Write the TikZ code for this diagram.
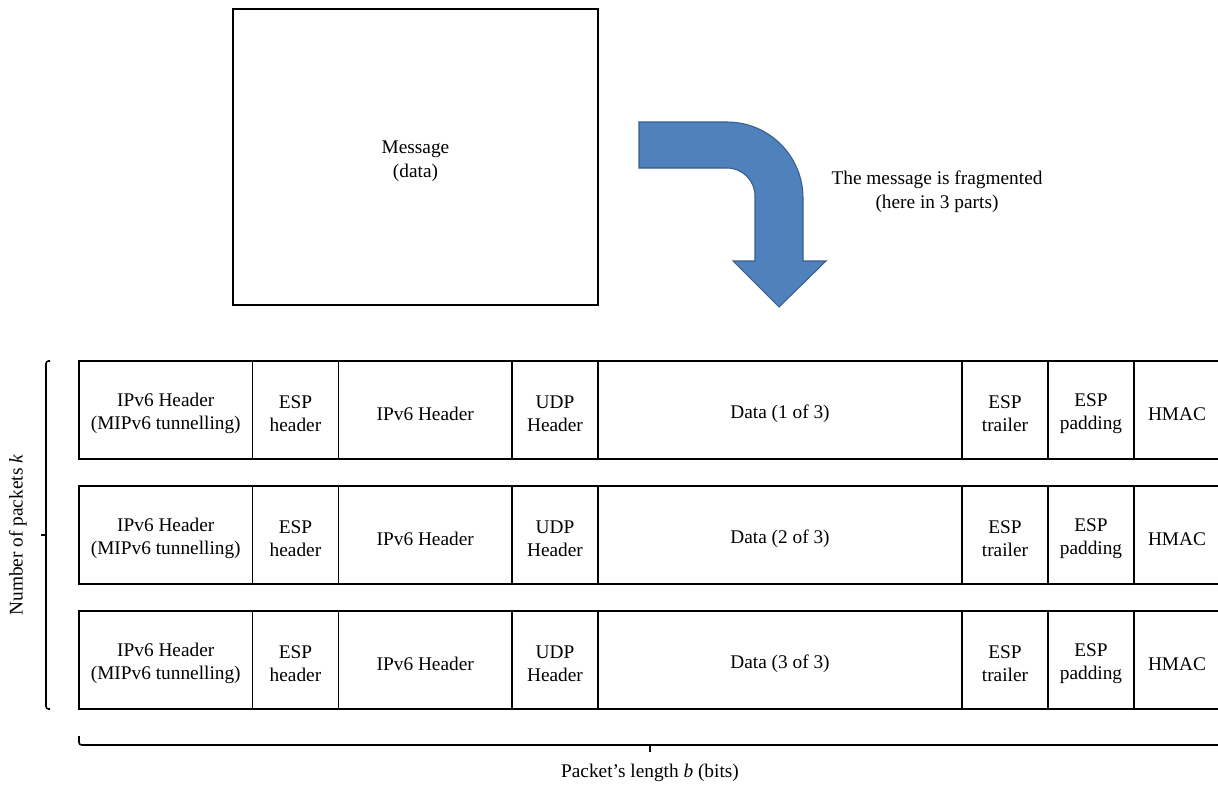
\documentclass[tikz,border=0pt]{standalone}
\usepackage{fontspec}
\setmainfont{Liberation Serif}
\usepackage{tikz}
\usetikzlibrary{positioning}
\definecolor{arrowblue}{RGB}{79,129,189}
\definecolor{arrowedge}{RGB}{56,93,138}
\newcommand{\cellstrut}{\rule{0pt}{11.5pt}}
\tikzset{
  msgbox/.style={draw, line width=0.9pt, minimum width=7.3cm, minimum height=5.92cm,
    align=center},
  cell/.style={draw, line width=0.9pt, minimum height=1.96cm, inner sep=0pt,
    outer sep=0pt, align=center},
  bigcell/.style={cell, minimum width=3.47cm},
  smallcell/.style={cell, minimum width=1.72cm},
  datacell/.style={cell, minimum width=7.28cm},
  bendarrow/.style={fill=arrowblue, draw=arrowedge, line width=0.6pt},
  bracket/.style={line width=0.9pt, rounded corners=1.5pt}
}

\begin{document}
\begin{tikzpicture}[font=\fontsize{11}{13.6}\selectfont]
\useasboundingbox (0,0) rectangle (24.36,-15.70);

% the message and the fragmentation arrow
\node[msgbox] (msg) at (8.31,-3.14) {\rule{0pt}{12.5pt}Message\\(data)};
\draw[bendarrow] (12.78,-2.44) -- (14.54,-2.44) arc[start angle=90, end angle=0, radius=1.52]
  -- (16.06,-5.22) -- (16.52,-5.22) -- (15.58,-6.14) -- (14.66,-5.22) -- (15.10,-5.22)
  -- (15.10,-3.92) arc[start angle=0, end angle=90, radius=0.56] -- (12.78,-3.36) -- cycle;
\node[align=center] (frag) at (18.74,-3.84) {The message is fragmented\\(here in 3 parts)};

% the packets
\foreach \r/\y in {1/-8.2, 2/-10.7, 3/-13.2} {
  \node[bigcell, anchor=west] (hdr\r) at (1.58,\y) {\cellstrut IPv6 Header\\(MIPv6 tunnelling)};
  \node[smallcell, right=0pt of hdr\r] (esph\r) {\cellstrut ESP\\header};
  \node[bigcell, right=0pt of esph\r] (ipv\r) {\cellstrut IPv6 Header};
  \node[smallcell, right=0pt of ipv\r] (udp\r) {\cellstrut UDP\\Header};
  \node[datacell, right=0pt of udp\r] (data\r) {\cellstrut Data (\r\ of 3)};
  \node[smallcell, right=0pt of data\r] (espt\r) {\cellstrut ESP\\trailer};
  \node[smallcell, right=0pt of espt\r] (espp\r) {\cellstrut ESP\\padding};
  \node[smallcell, right=0pt of espp\r] (hmac\r) {\cellstrut HMAC};
}

% brackets
\coordinate (ktop) at ([xshift=-0.58cm]hdr1.north west);
\coordinate (kmid) at ([xshift=-0.66cm]hdr2.west);
\coordinate (kbot) at ([xshift=-0.58cm]hdr3.south west);
\draw[bracket] (ktop) -- ++(-0.08,0) |- (kbot);
\draw[line width=0.9pt] (kmid) -- ++(-0.1,0);
\node[rotate=90] (klab) at (0.36,-10.7) {Number of packets \textit{k}};
\coordinate (bleft) at ([yshift=-0.54cm]hdr3.south west);
\coordinate (bmid) at ([yshift=-0.86cm]data3.south west);
\coordinate (bright) at ([yshift=-0.72cm]hmac3.south east);
\draw[bracket] (bleft) |- (bright);
\draw[line width=0.9pt] (bleft |- bright) ++(11.42,0) coordinate (btick) -- (btick |- bmid);
\node (blab) at (13.0,-15.46) {Packet’s length \textit{b} (bits)};
\end{tikzpicture}
\end{document}
